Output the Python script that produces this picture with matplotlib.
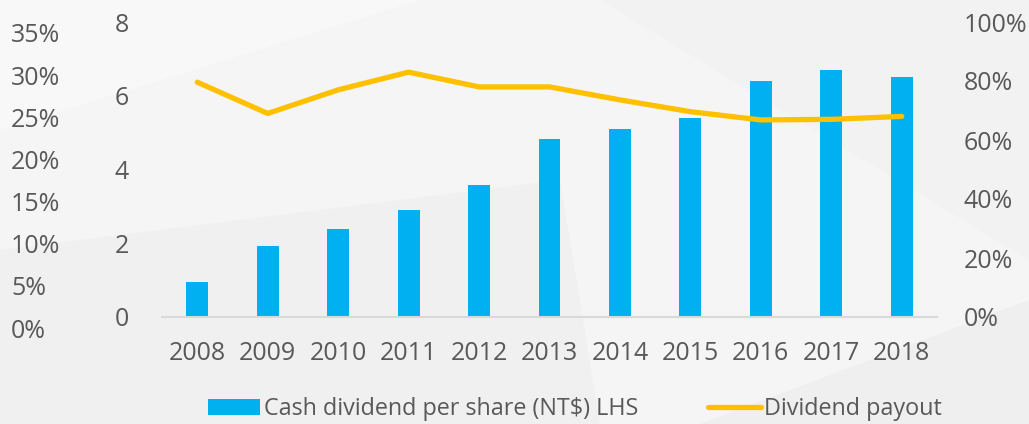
import numpy as np
import matplotlib
matplotlib.use("Agg")
import matplotlib.pyplot as plt
from matplotlib.patches import Polygon, Patch
from matplotlib.lines import Line2D
from matplotlib.ticker import PercentFormatter

plt.rcParams['font.family'] = ['Open Sans', 'DejaVu Sans']

######## chart data ########
years = ['2008', '2009', '2010', '2011', '2012', '2013',
         '2014', '2015', '2016', '2017', '2018']
cash_dividend = [0.95, 1.92, 2.40, 2.89, 3.57, 4.82, 5.11, 5.41, 6.40, 6.69, 6.50]
payout = [0.796, 0.690, 0.770, 0.830, 0.780, 0.780, 0.736, 0.696, 0.668, 0.670, 0.680]
left_ticks = [0, 2, 4, 6, 8]
right_ticks = [0, 0.2, 0.4, 0.6, 0.8, 1.0]
extra_ticks = [0, 0.05, 0.10, 0.15, 0.20, 0.25, 0.30, 0.35]

bar_color = '#00B0F0'
line_color = '#FFC000'
text_color = '#595959'
fs = 18

W, H = 1029, 424
fig = plt.figure(figsize=(W / 100, H / 100), dpi=100)
fig.patch.set_facecolor('#F5F5F5')

# faint background shapes
def px(points):
    return [(x / W, 1 - y / H) for x, y in points]

for pts, col in [
    ([(0, 250), (560, 180), (600, 424), (0, 424)], '#F0F0F0'),
    ([(0, 0), (420, 0), (0, 130)], '#F8F8F8'),
    ([(600, 0), (1029, 0), (1029, 260)], '#F2F2F2'),
    ([(700, 424), (1029, 300), (1029, 424)], '#EFEFEF'),
]:
    fig.patches.append(Polygon(px(pts), closed=True, transform=fig.transFigure,
                               facecolor=col, edgecolor='none', zorder=-10))

# main axes
ax = fig.add_axes([162 / W, 107 / H, 775 / W, 295 / H])
ax.set_facecolor('none')
x = np.arange(len(years))
ax.bar(x, cash_dividend, width=0.31, color=bar_color, zorder=2)
ax.set_xlim(-0.5, len(years) - 0.5)
ax.set_ylim(0, 8)
ax.set_xticks(x)
ax.set_xticklabels(years)
ax.set_yticks(left_ticks)
for s in ['top', 'right', 'left']:
    ax.spines[s].set_visible(False)
ax.spines['bottom'].set_color('#D9D9D9')
ax.spines['bottom'].set_linewidth(1.5)
ax.tick_params(axis='x', length=0, pad=17, labelsize=fs, labelcolor=text_color)
ax.tick_params(axis='y', length=0, pad=24, labelsize=fs, labelcolor=text_color)

# payout line on right axis
ax2 = ax.twinx()
ax2.plot(x, payout, color=line_color, lw=3.8, solid_capstyle='round',
         solid_joinstyle='round', zorder=3)
ax2.set_ylim(0, 1.0)
ax2.set_yticks(right_ticks)
ax2.yaxis.set_major_formatter(PercentFormatter(1.0, decimals=0))
for s in ax2.spines.values():
    s.set_visible(False)
ax2.tick_params(axis='y', length=0, pad=19, labelsize=fs, labelcolor=text_color)

# stray percentage axis at far left
ax3 = fig.add_axes([11 / W, 96 / H, 40 / W, 295 / H])
ax3.set_facecolor('none')
ax3.set_ylim(0, 0.35)
ax3.set_yticks(extra_ticks)
ax3.yaxis.set_major_formatter(PercentFormatter(1.0, decimals=0))
ax3.set_xticks([])
for s in ax3.spines.values():
    s.set_visible(False)
ax3.tick_params(axis='y', length=0, pad=0, labelsize=fs, labelcolor=text_color)
for lab in ax3.get_yticklabels():
    lab.set_horizontalalignment('left')

handles = [Patch(facecolor=bar_color, edgecolor='none'),
           Line2D([0], [0], color=line_color, lw=3.8, solid_capstyle='round')]
labels = ['Cash dividend per share (NT$) LHS', 'Dividend payout']
fig.legend(handles, labels, loc='center', bbox_to_anchor=(575 / W, 1 - 409 / H),
           ncol=2, frameon=False, fontsize=16.8, labelcolor=text_color,
           handlelength=2.25, handletextpad=0.15, columnspacing=3.0,
           borderpad=0, handleheight=0.65)

fig.savefig('out.png', dpi=100, facecolor=fig.get_facecolor())
